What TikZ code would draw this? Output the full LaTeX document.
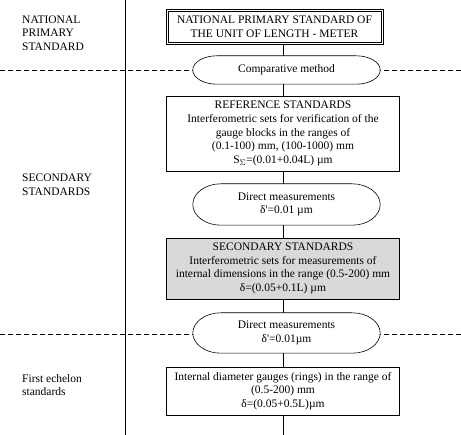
\documentclass[tikz,border=0pt]{standalone}
\usepackage{fontspec}
\setmainfont{Liberation Serif}
\usetikzlibrary{calc}
\pgfdeclarelayer{bg}
\pgfdeclarelayer{mid}
\pgfsetlayers{bg,mid,main}
\newcommand\termshape[2]{%
 \draw[line width=0.6pt, fill=white] ($(#1.north west)+(#2,0)$) -- ($(#1.north east)+(-#2,0)$)
 .. controls ($(#1.north east)+(-0.45*#2,0)$) and ($(#1.east)!0.55!(#1.north east)$) .. (#1.east)
 .. controls ($(#1.east)!0.55!(#1.south east)$) and ($(#1.south east)+(-0.45*#2,0)$) .. ($(#1.south east)+(-#2,0)$)
 -- ($(#1.south west)+(#2,0)$)
 .. controls ($(#1.south west)+(0.45*#2,0)$) and ($(#1.west)!0.55!(#1.south west)$) .. (#1.west)
 .. controls ($(#1.west)!0.55!(#1.north west)$) and ($(#1.north west)+(0.45*#2,0)$) .. cycle;}
\begin{document}
\begin{tikzpicture}[x=1pt,y=-1pt,
  every node/.style={font=\fontsize{11.5}{13.6}\selectfont, inner sep=0pt},
  stdbox/.style={draw, line width=0.6pt, align=center, minimum width=233pt},
  termbox/.style={align=center, minimum width=187pt},
  lbl/.style={align=left, anchor=west},
  link/.style={line width=0.6pt},
  sep/.style={line width=0.6pt, dash pattern=on 5pt off 3pt}]
\useasboundingbox (0,0) rectangle (461,435);
% separators
\begin{pgfonlayer}{bg}
\draw[sep] (0,70) -- (461,70);
\draw[sep] (0,334) -- (461,334);
\draw[link] (125,0) -- (125,435);
\end{pgfonlayer}
% nodes
\node[draw, line width=0.7pt, align=center, minimum width=217pt, minimum height=35pt] (nps) at (274.5,26.5) {NATIONAL PRIMARY STANDARD OF\\THE UNIT OF LENGTH - METER};
\draw[line width=0.6pt] ($(nps.north west)+(2.3,2.3)$) rectangle ($(nps.south east)+(-2.3,-2.3)$);
\node[termbox, minimum height=28pt] (cmp) at (286.5,70) {Comparative method};
\node[stdbox, minimum height=75pt] (ref) at (283,133.5) {REFERENCE STANDARDS\\Interferometric sets for verification of the\\gauge blocks in the ranges of\\(0.1-100) mm, (100-1000) mm\\S\textsubscript{$\Sigma$}=(0.01+0.04L) µm};
\node[termbox, minimum height=41pt] (dm1) at (286.5,204.5) {Direct measurements\\δ\textquotesingle=0.01 µm};
\node[stdbox, fill=black!15, minimum height=61pt] (sec) at (283,268.5) {SECONDARY STANDARDS\\Interferometric sets for measurements of\\internal dimensions in the range (0.5-200) mm\\δ=(0.05+0.1L) µm};
\node[termbox, minimum height=40pt] (dm2) at (286.5,333) {Direct measurements\\δ\textquotesingle=0.01µm};
\node[stdbox, minimum height=48pt] (fe) at (283,391) {Internal diameter gauges (rings) in the range of\\(0.5-200) mm\\δ=(0.05+0.5L)µm};
\coordinate (bot) at (283,435);
\begin{pgfonlayer}{mid}
\termshape{cmp}{24}
\termshape{dm1}{28}
\termshape{dm2}{28}
\end{pgfonlayer}
% connectors
\begin{pgfonlayer}{bg}
\draw[link] (ref.north |- nps.south) -- (ref.north |- cmp.north);
\draw[link] (ref.north |- cmp.south) -- (ref.north);
\draw[link] (ref.south) -- (ref.south |- dm1.north);
\draw[link] (sec.north |- dm1.south) -- (sec.north);
\draw[link] (sec.south) -- (sec.south |- dm2.north);
\draw[link] (fe.north |- dm2.south) -- (fe.north);
\draw[link] (fe.south) -- (bot);
\end{pgfonlayer}
% left labels
\node[lbl] (l1) at (22,33) {NATIONAL\\PRIMARY\\STANDARD};
\node[lbl] (l2) at (22,185) {SECONDARY\\STANDARDS};
\node[lbl] (l3) at (22,385) {First echelon\\standards};
\end{tikzpicture}
\end{document}
